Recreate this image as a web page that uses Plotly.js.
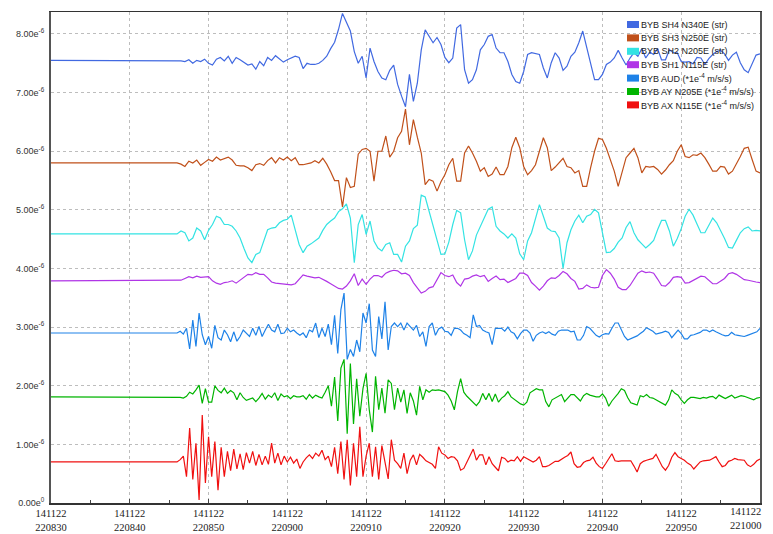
<!DOCTYPE html>
<html>
<head>
<meta charset="utf-8">
<script src="https://cdn.plot.ly/plotly-3.0.1.min.js"></script>
<style>
  html, body { margin: 0; padding: 0; background: #fff; }
  #chart { width: 773px; height: 534px; }
</style>
</head>
<body>
<div id="chart"></div>
<script>
// Time axis: seconds after 2014-11-22 22:08:30
const xTickSeconds = [0, 10, 20, 30, 40, 50, 60, 70, 80, 90];
const xTickLabels = [
  '141122<br>220830', '141122<br>220840', '141122<br>220850', '141122<br>220900',
  '141122<br>220910', '141122<br>220920', '141122<br>220930', '141122<br>220940',
  '141122<br>220950', '141122<br>221000'
];
// Vertical scale in units of 1e-6
const yTickValues = [0, 1, 2, 3, 4, 5, 6, 7, 8];
const yTickLabels = [
  '0.00e<sup>0</sup>', '1.00e<sup>-6</sup>', '2.00e<sup>-6</sup>', '3.00e<sup>-6</sup>',
  '4.00e<sup>-6</sup>', '5.00e<sup>-6</sup>', '6.00e<sup>-6</sup>', '7.00e<sup>-6</sup>',
  '8.00e<sup>-6</sup>'
];

// Record layout: one quiet sample at 22:08:30, then regular samples from the onset
const onsetSecond = 16;
const strainStep = 0.5;
const accelStep = 0.4;

// Strain channels (first value = quiet level before the onset)
const sh4 = [7.55,
  7.55,7.54,7.53,7.56,7.50,7.55,7.53,7.57,7.50,7.47,
  7.57,7.60,7.54,7.62,7.50,7.60,7.56,7.52,7.47,7.49,
  7.40,7.53,7.46,7.60,7.55,7.63,7.58,7.52,7.56,7.59,
  7.62,7.60,7.41,7.50,7.48,7.48,7.50,7.55,7.62,7.75,
  7.86,8.08,8.35,8.20,8.05,7.70,7.50,7.62,7.25,
  7.76,7.53,7.36,7.25,7.22,7.38,7.47,7.14,6.94,6.76,
  7.31,6.85,7.16,7.73,8.07,7.96,7.85,7.94,7.82,7.60,
  7.51,7.59,8.10,8.16,7.39,7.16,7.22,7.39,7.73,7.82,
  7.96,7.99,7.76,7.68,7.68,7.53,7.31,7.19,7.16,7.36,
  7.65,7.68,7.66,7.65,7.42,7.25,7.51,7.68,7.59,7.38,
  7.45,7.62,7.69,7.85,8.05,7.76,7.48,7.22,7.22,7.31,
  7.48,7.52,7.59,7.72,7.59,7.47,7.59,7.68,7.62,7.75,
  7.59,7.69,7.65,7.75,7.56,7.56,7.73,7.68,7.68,7.53,
  7.52,7.53,7.49,7.60,7.59,7.48,7.58,7.65,7.70,7.72,
  7.66,7.55,7.64,7.69,7.51,7.39,7.34,7.48,7.64,7.66];

const sh3 = [5.80,
  5.80,5.78,5.74,5.83,5.80,5.85,5.76,5.81,5.86,5.83,
  5.90,5.85,5.88,5.90,5.85,5.76,5.75,5.75,5.72,5.67,
  5.77,5.79,5.76,5.84,5.89,5.80,5.89,5.85,5.90,5.84,
  5.89,5.77,5.77,5.79,5.80,5.84,5.80,5.88,5.78,5.65,
  5.50,5.50,5.05,5.55,5.38,5.40,5.95,6.03,6.05,
  6.00,5.49,6.00,6.00,6.26,5.90,6.00,6.23,6.34,6.72,
  6.11,6.54,6.24,5.97,5.43,5.52,5.49,5.32,5.48,5.60,
  5.77,5.88,5.49,5.49,5.97,6.09,5.97,5.83,5.66,5.72,
  5.57,5.61,5.73,5.60,5.60,5.74,6.06,6.24,6.06,5.74,
  5.60,5.67,5.77,6.00,6.23,6.06,5.67,5.73,5.80,5.88,
  5.74,5.72,5.63,5.67,5.40,5.40,5.72,6.00,6.22,6.20,
  6.05,5.86,5.66,5.40,5.65,5.89,5.97,6.05,5.89,5.63,
  5.74,5.73,5.74,5.69,5.61,5.68,5.77,5.84,6.00,6.11,
  5.91,5.89,5.94,5.93,5.97,5.89,5.78,5.66,5.66,5.74,
  5.73,5.61,5.66,5.78,5.91,6.05,6.07,5.86,5.66,5.63];

const sh2 = [4.59,
  4.59,4.64,4.61,4.47,4.52,4.69,4.64,4.49,4.65,4.75,
  4.89,4.86,4.75,4.75,4.72,4.64,4.52,4.34,4.18,4.10,
  4.24,4.27,4.47,4.66,4.69,4.70,4.78,4.82,4.84,4.91,
  4.66,4.41,4.27,4.38,4.42,4.47,4.52,4.65,4.75,4.81,
  4.86,4.97,5.02,5.10,4.86,4.10,4.75,4.92,4.58,
  4.81,4.47,4.35,4.30,4.41,4.44,4.24,4.24,4.11,4.38,
  4.47,4.68,4.74,5.25,5.22,4.98,4.76,4.52,4.24,4.25,
  4.45,4.75,4.99,4.95,4.49,4.15,4.30,4.57,4.72,4.86,
  5.01,5.05,4.72,4.64,4.59,4.52,4.59,4.52,4.25,4.15,
  4.47,4.61,4.86,5.09,4.89,4.69,4.64,4.63,4.52,4.00,
  4.44,4.66,4.81,4.91,4.78,4.89,4.92,5.01,4.95,4.64,
  4.27,4.28,4.34,4.45,4.52,4.70,4.80,4.61,4.49,4.42,
  4.35,4.41,4.48,4.66,4.82,4.82,4.64,4.38,4.51,4.68,
  4.89,5.01,4.91,4.76,4.61,4.61,4.74,4.86,4.78,4.65,
  4.51,4.36,4.35,4.48,4.61,4.68,4.71,4.64,4.65,4.64];

const sh1 = [3.79,
  3.79,3.80,3.83,3.86,3.84,3.87,3.85,3.85,3.86,3.79,
  3.75,3.73,3.76,3.77,3.79,3.75,3.80,3.84,3.90,3.89,
  3.93,3.90,3.90,3.84,3.77,3.75,3.74,3.74,3.73,3.72,
  3.74,3.82,3.89,3.87,3.86,3.84,3.85,3.82,3.78,3.74,
  3.70,3.66,3.65,3.70,3.79,3.91,3.71,3.82,3.73,
  3.82,3.88,3.88,3.85,3.92,3.95,3.97,3.96,3.91,3.92,
  3.88,3.76,3.66,3.58,3.61,3.67,3.69,3.81,3.93,3.88,
  3.86,3.89,3.76,3.70,3.82,3.83,3.87,3.89,3.86,3.88,
  3.78,3.83,3.87,3.81,3.82,3.76,3.80,3.83,3.92,3.92,
  3.88,3.76,3.70,3.63,3.70,3.79,3.84,3.83,3.88,3.95,
  3.91,3.83,3.78,3.65,3.66,3.72,3.68,3.67,3.68,3.88,
  3.98,3.92,3.82,3.68,3.64,3.64,3.71,3.82,3.92,3.96,
  3.93,3.94,3.92,3.82,3.71,3.70,3.76,3.85,3.86,3.85,
  3.75,3.76,3.80,3.83,3.87,3.86,3.80,3.74,3.74,3.78,
  3.83,3.91,3.93,3.90,3.85,3.81,3.80,3.78,3.77,3.76];

// Acceleration channels (first value = quiet level before the onset)
const aud = [2.90,
  2.90,2.93,2.88,2.98,2.63,3.12,2.67,3.24,2.87,2.70,
  2.84,2.64,3.03,2.82,2.78,2.95,2.87,2.75,2.92,2.76,
  2.84,2.95,2.89,2.84,2.98,2.86,3.01,2.84,2.95,3.05,
  2.95,2.92,3.05,2.89,2.90,2.98,2.92,2.95,2.90,2.86,
  2.90,2.82,2.95,2.92,3.07,2.82,2.98,2.84,3.05,2.70,
  3.20,2.55,3.30,3.58,2.45,2.62,2.50,2.78,2.58,3.24,
  3.07,
  3.40,2.61,2.50,3.18,2.80,3.43,2.61,3.01,3.07,3.01,
  3.07,2.95,3.07,3.01,2.95,3.03,2.84,2.92,2.67,3.01,
  3.07,2.86,2.97,3.00,2.93,2.92,2.86,2.98,2.98,2.95,
  2.89,2.86,2.82,3.21,3.01,3.03,2.95,2.92,2.90,2.70,
  2.98,2.98,2.98,2.93,3.00,2.92,2.89,2.80,2.89,2.95,
  2.95,2.90,2.76,2.86,2.90,2.92,2.89,2.92,2.88,2.86,
  2.93,2.95,
  2.95,2.95,2.92,2.93,2.78,2.78,2.86,3.01,2.98,2.91,
  2.86,2.83,2.87,2.89,2.88,2.98,3.07,3.07,2.95,2.84,
  2.78,2.80,2.82,2.85,2.89,2.93,2.99,2.96,2.93,2.88,
  2.89,2.91,2.93,2.91,2.82,2.89,2.95,2.89,2.80,2.80,
  2.86,2.87,2.89,2.91,2.95,2.95,2.92,2.95,2.92,2.89,
  2.87,2.85,2.86,2.91,2.87,2.86,2.85,2.84,2.86,2.88,
  2.89,2.92,2.98];

const ay = [1.81,
  1.81,1.80,1.79,1.82,1.89,1.86,1.93,2.01,1.70,1.95,
  1.72,1.72,2.00,1.92,1.88,1.96,1.87,1.92,1.88,1.76,
  1.88,1.80,1.75,1.77,1.79,1.73,1.79,1.87,1.77,1.84,
  1.80,1.88,1.75,1.86,1.81,1.83,1.78,1.83,1.81,1.81,
  1.83,1.77,1.85,1.79,1.84,1.81,1.79,1.89,2.00,1.65,
  2.15,1.40,2.30,2.45,1.18,2.38,1.35,2.12,1.48,1.95,
  2.21,
  1.59,1.21,2.16,1.59,1.96,1.53,2.10,2.04,1.59,1.96,
  1.72,1.93,1.53,1.88,1.74,1.50,1.99,1.76,1.93,1.89,
  1.93,1.92,1.93,1.92,1.90,1.84,1.74,1.59,1.90,2.12,
  1.89,1.82,1.77,1.72,1.66,1.73,1.87,1.76,1.87,1.73,
  1.86,1.72,1.79,1.83,1.90,1.81,1.77,1.74,1.69,1.67,
  1.72,1.88,1.92,1.95,1.93,1.93,1.73,1.64,1.76,1.79,
  1.82,1.85,
  1.73,1.80,1.85,1.85,1.79,1.74,1.83,1.87,1.84,1.82,
  1.81,1.81,1.86,1.79,1.65,1.74,1.80,1.87,1.95,1.92,
  1.80,1.71,1.69,1.67,1.83,1.81,1.85,1.80,1.79,1.76,
  1.73,1.71,1.67,1.76,1.93,1.87,1.84,1.76,1.70,1.76,
  1.80,1.80,1.79,1.78,1.80,1.79,1.81,1.82,1.78,1.84,
  1.81,1.78,1.81,1.84,1.79,1.81,1.83,1.82,1.80,1.78,
  1.76,1.79,1.80];

const ax = [0.70,
  0.70,0.74,0.80,0.45,1.28,0.40,1.02,0.05,1.50,0.34,
  1.13,0.45,1.05,0.22,0.95,0.45,0.88,0.55,0.92,0.58,
  0.84,0.57,0.86,0.68,0.88,0.64,0.83,0.65,0.80,0.66,
  1.02,0.68,0.85,0.65,0.80,0.70,0.78,0.68,0.75,0.59,
  0.70,0.77,0.82,0.76,0.85,0.80,0.90,0.74,0.80,0.62,
  0.95,0.50,1.05,0.40,1.08,0.30,1.02,0.45,1.30,0.45,
  0.80,
  1.02,0.45,0.96,0.40,0.98,0.72,0.41,1.08,0.73,0.67,
  0.59,0.85,0.50,0.73,0.82,0.65,0.83,0.78,0.72,0.69,
  0.66,0.59,0.96,0.85,0.82,0.76,0.79,0.78,0.72,0.56,
  0.59,0.70,0.80,0.92,0.73,0.82,0.82,0.65,0.79,0.67,
  0.61,0.55,0.78,0.76,0.70,0.73,0.72,0.79,0.71,0.79,
  0.76,0.73,0.70,0.73,0.79,0.62,0.62,0.64,0.68,0.71,
  0.71,0.75,
  0.78,0.81,0.87,0.67,0.61,0.62,0.69,0.72,0.73,0.78,
  0.68,0.62,0.59,0.67,0.75,0.84,0.72,0.71,0.72,0.72,
  0.73,0.72,0.63,0.53,0.67,0.71,0.73,0.74,0.76,0.83,
  0.73,0.62,0.56,0.64,0.78,0.86,0.79,0.76,0.73,0.68,
  0.65,0.58,0.64,0.70,0.72,0.72,0.73,0.76,0.79,0.70,
  0.62,0.64,0.71,0.73,0.76,0.74,0.74,0.73,0.65,0.62,
  0.66,0.72,0.75];

const channelNames = [
  'BYB SH4 N340E (str)',
  'BYB SH3 N250E (str)',
  'BYB SH2 N205E (str)',
  'BYB SH1 N115E (str)',
  'BYB AUD (*1e<sup>-4</sup> m/s/s)',
  'BYB AY N205E (*1e<sup>-4</sup> m/s/s)',
  'BYB AX N115E (*1e<sup>-4</sup> m/s/s)'
];
const channelColors = ['#4169e1', '#c0501a', '#33e3e3', '#b035e6', '#1e82e8', '#00b400', '#f01010'];
const channelValues = [sh4, sh3, sh2, sh1, aud, ay, ax];
const channelSteps = [strainStep, strainStep, strainStep, strainStep, accelStep, accelStep, accelStep];

// Sample times: the quiet sample at 0 s, then evenly spaced from the onset
function sampleTimes(count, step) {
  const t = [0];
  for (let i = 1; i < count; i++) t.push(+(onsetSecond + (i - 1) * step).toFixed(2));
  return t;
}

const traces = channelValues.map((vals, k) => ({
  type: 'scatter',
  mode: 'lines',
  name: channelNames[k],
  x: sampleTimes(vals.length, channelSteps[k]),
  y: vals,
  line: { color: channelColors[k], width: 1.2 },
  showlegend: false,
  hoverinfo: 'skip'
}));

// Plot-area geometry in pixels
const W = 773, H = 534;
const M = { l: 51, r: 13, t: 12, b: 31 };
const plotW = W - M.l - M.r, plotH = H - M.t - M.b;
const px2paperX = px => (px - M.l) / plotW;
const px2paperY = py => 1 - (py - M.t) / plotH;

const tickFont = { family: 'Liberation Serif, Times New Roman, serif', size: 10.5, color: '#222' };

// Key in the upper right corner: coloured swatch + channel name
const shapes = [];
const annotations = [];
channelNames.forEach((name, k) => {
  const cy = 24.5 + k * 13.4;
  shapes.push({
    type: 'rect', xref: 'paper', yref: 'paper',
    x0: px2paperX(627), x1: px2paperX(639),
    y0: px2paperY(cy + 3.5), y1: px2paperY(cy - 3.5),
    fillcolor: channelColors[k], line: { width: 0 }, layer: 'above'
  });
  annotations.push({
    xref: 'paper', yref: 'paper',
    x: px2paperX(639), y: px2paperY(cy),
    xanchor: 'left', yanchor: 'middle',
    text: name, showarrow: false,
    font: { family: 'Liberation Sans, Arial, sans-serif', size: 9, color: '#222' }
  });
});

// The last time label sits at the right edge, so it is right-aligned to its tick
const lastTick = xTickSeconds.length - 1;
annotations.push({
  xref: 'x', yref: 'paper',
  x: xTickSeconds[lastTick], y: 0,
  xanchor: 'right', yanchor: 'top', xshift: 4, yshift: -1,
  text: xTickLabels[lastTick], align: 'center', showarrow: false,
  font: tickFont
});

const layout = {
  width: W, height: H,
  margin: M,
  paper_bgcolor: '#ffffff',
  plot_bgcolor: '#ffffff',
  showlegend: false,
  xaxis: {
    range: [0, 90],
    tickvals: xTickSeconds.slice(0, lastTick),
    ticktext: xTickLabels.slice(0, lastTick),
    tickfont: tickFont,
    ticks: 'inside', ticklen: 4, tickcolor: '#444',
    minor: { dtick: 5, ticks: 'inside', ticklen: 3, tickcolor: '#444', showgrid: false },
    showgrid: true, gridcolor: '#bdbdbd', griddash: 'dot', gridwidth: 1,
    zeroline: false,
    showline: true, linecolor: '#333', linewidth: 1.5, mirror: true
  },
  yaxis: {
    range: [0, 8.375],
    tickvals: yTickValues,
    ticktext: yTickLabels,
    tickfont: { family: 'Liberation Sans, Arial, sans-serif', size: 9, color: '#333' },
    ticks: 'outside', ticklen: 3, tickcolor: 'rgba(0,0,0,0)',
    showgrid: true, gridcolor: '#bdbdbd', griddash: 'dot', gridwidth: 1,
    zeroline: false,
    showline: true, linecolor: '#555', linewidth: 2, mirror: true
  },
  shapes: shapes,
  annotations: annotations
};

Plotly.newPlot('chart', traces, layout, { displayModeBar: false, staticPlot: true });
</script>
</body>
</html>
